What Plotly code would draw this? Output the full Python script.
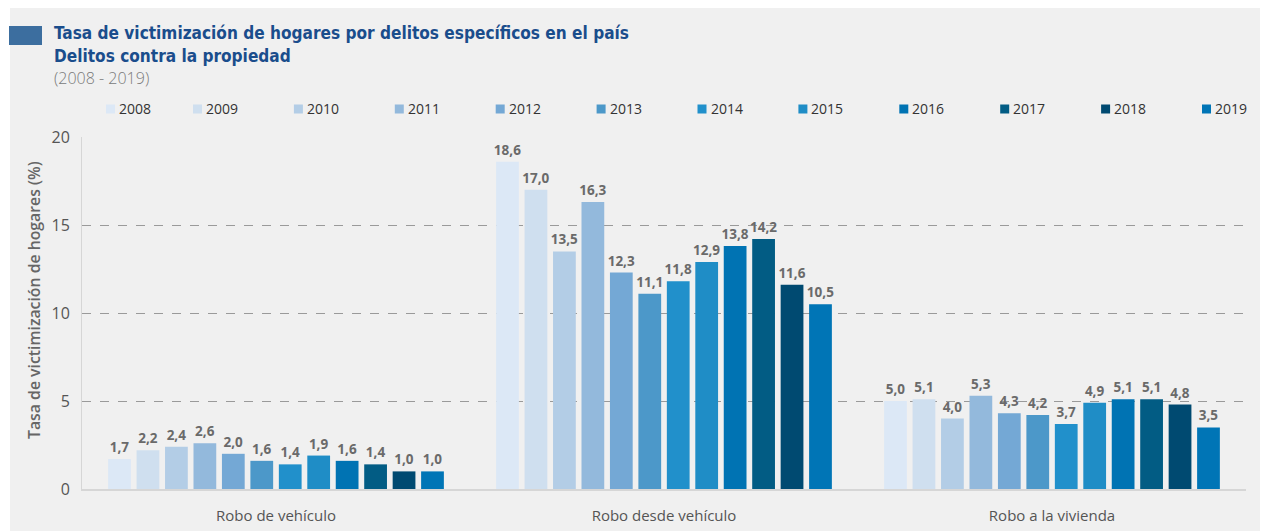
import plotly.graph_objects as go

categories = ["Robo de vehículo", "Robo desde vehículo", "Robo a la vivienda"]
years = ["2008", "2009", "2010", "2011", "2012", "2013",
         "2014", "2015", "2016", "2017", "2018", "2019"]
values = {
    "2008": [1.7, 18.6, 5.0],
    "2009": [2.2, 17.0, 5.1],
    "2010": [2.4, 13.5, 4.0],
    "2011": [2.6, 16.3, 5.3],
    "2012": [2.0, 12.3, 4.3],
    "2013": [1.6, 11.1, 4.2],
    "2014": [1.4, 11.8, 3.7],
    "2015": [1.9, 12.9, 4.9],
    "2016": [1.6, 13.8, 5.1],
    "2017": [1.4, 14.2, 5.1],
    "2018": [1.0, 11.6, 4.8],
    "2019": [1.0, 10.5, 3.5],
}
colors = ["#dce8f6", "#cfdfef", "#b3cde6", "#93b9dc", "#74a8d5", "#4c98c9",
          "#2190cb", "#1f8dc6", "#0073b3", "#025c84", "#004a71", "#0075b6"]
y_ticks = [0, 5, 10, 15, 20]

# figure is placed by the page with an 8px body margin
OX, OY = 8, 8
W, H = 1268, 531
ML, MR, MT, MB = 74, 30, 129, 50
PW = W - ML - MR
PH = H - MT - MB


def px_x(px):
    # page pixel x -> paper coordinate
    return (px - OX - ML) / PW


def px_y(py):
    # page pixel y -> paper coordinate
    return (H - MB - (py - OY)) / PH


fig = go.Figure()
for yr, col in zip(years, colors):
    fig.add_trace(go.Bar(
        name=yr, x=categories, y=values[yr],
        marker=dict(color=col, line=dict(width=0)),
        texttemplate="%{y:.1f}", textposition="outside",
        textfont=dict(family="Open Sans", size=13.5, color="#6a6a6a", weight=700),
        constraintext="none", cliponaxis=False, showlegend=False,
    ))

fig.update_layout(
    width=W, height=H,
    margin=dict(l=ML, r=MR, t=MT, b=MB, autoexpand=False),
    paper_bgcolor="#f0f0f0", plot_bgcolor="#f0f0f0",
    separators=",.",
    barmode="group", bargap=0.12, bargroupgap=0.20,
    font=dict(family="Open Sans", color="#555555"),
    showlegend=False,
    xaxis=dict(
        showline=True, linecolor="#d6d6d6", linewidth=2,
        ticks="", tickfont=dict(family="Open Sans", size=15, color="#555555"),
        ticklabelstandoff=12, showgrid=False, automargin=False,
    ),
    yaxis=dict(
        range=[0, 20], tickvals=y_ticks, showline=True, linecolor="#d6d6d6", linewidth=1,
        showgrid=True, gridcolor="#9a9a9a", griddash="dash", gridwidth=1,
        zeroline=False, ticks="", automargin=False,
        tickfont=dict(family="Open Sans", size=16, color="#555555"),
        ticklabelstandoff=8,
    ),
)

shapes = [
    dict(type="rect", xref="paper", yref="paper", x0=px_x(0), x1=px_x(10), y0=px_y(560), y1=px_y(0),
         fillcolor="white", line=dict(width=0), layer="above"),
    dict(type="rect", xref="paper", yref="paper", x0=px_x(9), x1=px_x(42), y0=px_y(45), y1=px_y(26),
         fillcolor="#3c6e9f", line=dict(width=0), layer="above"),
]

title_font = "DejaVu Sans Condensed, Roboto Condensed, Roboto"
annotations = [
    dict(text="<b>Tasa de victimización de hogares por delitos específicos en el país</b>",
         x=px_x(52), y=px_y(33), xref="paper", yref="paper", xanchor="left", yanchor="middle",
         showarrow=False, font=dict(family=title_font, size=17.1, color="#1a4d8c")),
    dict(text="<b>Delitos contra la propiedad</b>",
         x=px_x(52), y=px_y(56), xref="paper", yref="paper", xanchor="left", yanchor="middle",
         showarrow=False, font=dict(family=title_font, size=17.1, color="#1a4d8c")),
    dict(text="(2008 - 2019)",
         x=px_x(52), y=px_y(78), xref="paper", yref="paper", xanchor="left", yanchor="middle",
         showarrow=False, font=dict(family="Open Sans", size=16, color="#7a7a7a", weight=300)),
    dict(text="Tasa de victimización de hogares (%)",
         x=px_x(34), y=px_y(300), xref="paper", yref="paper", xanchor="center", yanchor="middle",
         textangle=-90, showarrow=False,
         font=dict(family="Open Sans", size=15.8, color="#666666", weight=600)),
]

# manual legend built from the years / colors lists
leg_y = 109
leg_sq = 9
for i, (yr, col) in enumerate(zip(years, colors)):
    lx = 106 if i == 0 else 193 + (i - 1) * 100.9
    shapes.append(dict(type="rect", xref="paper", yref="paper",
                       x0=px_x(lx), x1=px_x(lx + leg_sq),
                       y0=px_y(leg_y + leg_sq / 2), y1=px_y(leg_y - leg_sq / 2),
                       fillcolor=col, line=dict(width=0), layer="above"))
    annotations.append(dict(text=yr, x=px_x(lx + 11), y=px_y(leg_y), xref="paper", yref="paper",
                            xanchor="left", yanchor="middle", showarrow=False,
                            font=dict(family="Open Sans", size=14, color="#333333")))

fig.update_layout(shapes=shapes, annotations=annotations)

fig.write_html("out.html")
